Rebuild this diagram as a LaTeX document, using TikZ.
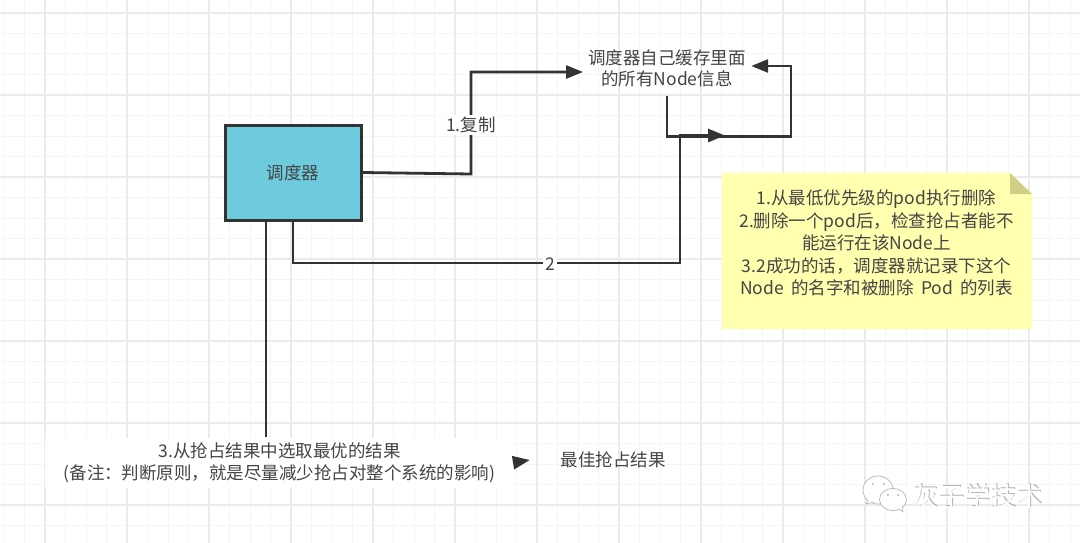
\documentclass[tikz,border=0pt]{standalone}
\usepackage{fontspec}
\setmainfont{Noto Sans CJK SC}
\usepackage{xcolor}
\usetikzlibrary{arrows.meta,positioning,calc}
\definecolor{inkgray}{HTML}{333333}
\definecolor{textgray}{HTML}{444444}
\definecolor{gridminor}{HTML}{F5F5F5}
\definecolor{gridmajor}{HTML}{EBEBEB}
\definecolor{schedblue}{HTML}{6ECBDE}
\definecolor{noteyellow}{HTML}{FFFFB0}
\definecolor{notefold}{HTML}{CFCF85}
\definecolor{markgray}{HTML}{B5B5B5}
\tikzset{
	txt/.style={font=\fontsize{17.5}{22.4}\selectfont, text=textgray, align=center, inner sep=0pt},
	link/.style={draw=inkgray, line width=2.8pt},
	linklabel/.style={txt, fill=white, inner sep=2pt},
	markbubble/.style={draw=markgray, line width=0.7pt, fill=white}
}

\begin{document}
\begin{tikzpicture}[x=1pt, y=-1pt, >={Triangle[length=17pt, width=13pt]}]
	\useasboundingbox (0,0) rectangle (1080,543);
	\fill[white] (0,0) rectangle (1080,543);
	% background grid
	\foreach \i in {0,...,53}
		\draw[gridminor, line width=1pt] ({4+20.5*\i},0) -- ({4+20.5*\i},543);
	\foreach \j in {0,...,26}
		\draw[gridminor, line width=1pt] (0,{13+20.5*\j}) -- (1080,{13+20.5*\j});
	\foreach \i in {0,...,13}
		\draw[gridmajor, line width=1.4pt] ({45+82*\i},0) -- ({45+82*\i},543);
	\foreach \j in {0,...,6}
		\draw[gridmajor, line width=1.4pt] (0,{13+82*\j}) -- (1080,{13+82*\j});

	% sticky note
	\fill[noteyellow] (722,173) -- (1010,173) -- (1032,194) -- (1032,329) -- (722,329) -- cycle;
	\fill[notefold] (1010,173) -- (1032,194) -- (1010,194) -- cycle;
	\node[txt] (noteText) at (876.5,243) {1.从最低优先级的pod执行删除\\2.删除一个pod后，检查抢占者能不\\能运行在该Node上\\3.2成功的话，调度器就记录下这个\\Node\hspace{.42em}的名字和被删除\hspace{.42em}Pod\hspace{.42em}的列表};

	% nodes
	\node[txt, draw=inkgray, line width=3pt, fill=schedblue, minimum width=136pt, minimum height=95pt] (sched) at (293,172.5) {调度器};
	\node[txt, font=\fontsize{17.5}{21}\selectfont, minimum width=168pt, minimum height=48pt] (cache) at (667,68.5) {调度器自己缓存里面\\的所有Node信息};
	\node[txt, fill=white, minimum width=469pt, minimum height=50pt] (choice) at (279.5,462.5) {3.从抢占结果中选取最优的结果\\(备注：判断原则，就是尽量减少抢占对整个系统的影响)};
	\node[txt, minimum width=166pt, minimum height=30pt] (best) at (613,460) {最佳抢占结果};

	\coordinate (cacheIn) at (583,72);
	\coordinate (cacheOut) at (667,96);
	\coordinate (bendCopy) at (471,174);
	\coordinate (bendLoop) at (791,136.5);
	\coordinate (bendTwo) at (680,263);
	\coordinate (mergeTip) at (725,135.5);

	% connectors
	\draw[link, ->] (sched.east) -- (bendCopy) |- (cacheIn);
	\draw[link, ->] (cacheOut) |- (bendLoop) |- ([yshift=2.5pt]cache.east);
	\draw[link, ->] (sched.south) |- (bendTwo) |- (mergeTip);
	\draw[link] ([xshift=-27pt]sched.south) -- ([xshift=-13.5pt]choice.north);
	\draw[link, ->] (choice.east) -- (best.west);
	\node[linklabel] (labelCopy) at (471,125) {1.复制};
	\node[linklabel] (labelTwo) at (550,264) {2};

	% account mark
	\draw[markbubble] (878,490) ellipse (15 and 14);
	\draw[markbubble] (868,500) -- (866,504) -- (874,502);
	\fill[white] (869,497) -- (874,501) -- (870,501) -- cycle;
	\fill[markgray] (873,484) circle (1.1) (884,484) circle (1.1);
	\draw[markbubble] (893,499.5) ellipse (13.5 and 11);
	\draw[markbubble] (899,509) -- (903,512) -- (902,506);
	\fill[white] (897,508) -- (901,509) -- (901,505) -- cycle;
	\fill[markgray] (888,495) circle (1.1) (898,495) circle (1.1);
	\node[font=\fontsize{26}{26}\selectfont, text=markgray, inner sep=0pt] (markShade) at (978.5,496) {灰子学技术};
	\node[font=\fontsize{26}{26}\selectfont, text=white, inner sep=0pt, above left=-26pt and -130pt of markShade, xshift=-0.7pt, yshift=0.7pt] (markText) {灰子学技术};
\end{tikzpicture}
\end{document}
